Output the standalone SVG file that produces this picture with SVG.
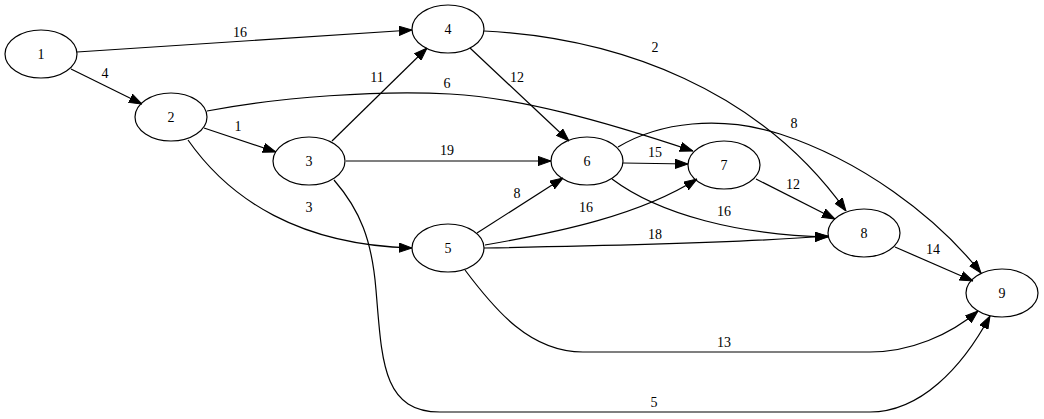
<svg xmlns="http://www.w3.org/2000/svg" width="1044" height="419" viewBox="0 0 1044 419">
<style>
.n ellipse{fill:none;stroke:#000;stroke-width:1.2}
text{font-family:"Liberation Serif","Times New Roman",serif;font-size:14px;text-anchor:middle;fill:#000}
.e path{fill:none;stroke:#000;stroke-width:1.2;marker-end:url(#ah)}
</style>
<defs>
<marker id="ah" viewBox="0 0 13 10" refX="13" refY="5" markerUnits="userSpaceOnUse" markerWidth="13" markerHeight="10" orient="auto">
<path d="M0,0.4 L13,5 L0,9.6 z" fill="#000" stroke="#000" stroke-width="1"/>
</marker>
</defs>
<rect width="1044" height="419" fill="#fff"/>
<g id="edges" class="e">
<path d="M77,52 L412,30"/>
<path d="M71,69 L142,104"/>
<path d="M204,128 L276,152"/>
<path d="M207,111 C280,97 380,90 450,94 C520,98 600,120 693,151"/>
<path d="M188,140 C230,200 300,245 412,248"/>
<path d="M332,141 L427,48"/>
<path d="M346,161 L551,161"/>
<path d="M334,180 C360,210 372,240 376,290 C382,360 382,412 440,412 L870,412 C920,412 962,368 990,316"/>
<path d="M470,48 L569,141"/>
<path d="M484,31 C620,38 760,90 846,211"/>
<path d="M477,233 L563,178"/>
<path d="M485,245 C560,232 640,215 697,179"/>
<path d="M484,248 C600,246 740,243 828,236"/>
<path d="M465,270 C495,310 530,352 583,352 L870,352 C910,352 950,335 978,311"/>
<path d="M623,163 L688,164"/>
<path d="M612,179 C660,215 740,235 828,237"/>
<path d="M618,147 C660,122 720,115 780,134 C860,160 935,215 981,273"/>
<path d="M756,179 L835,219"/>
<path d="M895,247 L973,281"/>
</g>
<g id="edge-labels">
<text x="240" y="37">16</text>
<text x="105" y="78">4</text>
<text x="238" y="131">1</text>
<text x="309" y="212">3</text>
<text x="377" y="82">11</text>
<text x="447" y="88">6</text>
<text x="517" y="82">12</text>
<text x="655" y="52">2</text>
<text x="447" y="155">19</text>
<text x="655" y="157">15</text>
<text x="517" y="198">8</text>
<text x="586" y="212">16</text>
<text x="794" y="128">8</text>
<text x="793" y="189">12</text>
<text x="724" y="216">16</text>
<text x="933" y="254">14</text>
<text x="655" y="239">18</text>
<text x="724" y="347">13</text>
<text x="654" y="407">5</text>
</g>
<g id="node1" class="n"><ellipse cx="41" cy="54" rx="36" ry="24"/><text x="41" y="59">1</text></g>
<g id="node2" class="n"><ellipse cx="171" cy="117" rx="36" ry="24"/><text x="171" y="122">2</text></g>
<g id="node3" class="n"><ellipse cx="309" cy="161" rx="36" ry="24"/><text x="309" y="166">3</text></g>
<g id="node4" class="n"><ellipse cx="448" cy="29" rx="36" ry="24"/><text x="448" y="34">4</text></g>
<g id="node5" class="n"><ellipse cx="448" cy="248" rx="36" ry="24"/><text x="448" y="253">5</text></g>
<g id="node6" class="n"><ellipse cx="587" cy="161" rx="36" ry="24"/><text x="587" y="166">6</text></g>
<g id="node7" class="n"><ellipse cx="724" cy="165" rx="36" ry="24"/><text x="724" y="170">7</text></g>
<g id="node8" class="n"><ellipse cx="864" cy="233" rx="36" ry="24"/><text x="864" y="238">8</text></g>
<g id="node9" class="n"><ellipse cx="1002" cy="293" rx="36" ry="24"/><text x="1002" y="298">9</text></g>
</svg>
